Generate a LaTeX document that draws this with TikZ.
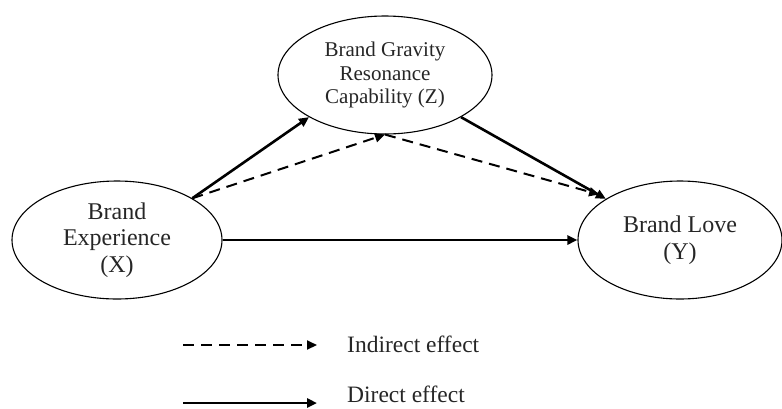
\documentclass[tikz,border=0pt]{standalone}
\usepackage{fontspec}
\setmainfont{Liberation Serif}
\usetikzlibrary{shapes.geometric,arrows.meta}
\begin{document}
\begin{tikzpicture}[x=1pt,y=-1pt,
  ell/.style={ellipse,draw,line width=1.1pt,inner sep=0pt,align=center,text=black!85},
  solidarr/.style={line width=2.6pt,-{Triangle[length=10pt,width=9pt]}},
  dasharr/.style={line width=2pt,dash pattern=on 11pt off 7pt,-{Triangle[length=10pt,width=9pt]}},
  legtext/.style={anchor=base west,inner sep=0pt,font=\fontsize{23.5}{26}\selectfont,text=black!85}]
\useasboundingbox (0,0) rectangle (782,408);
\node[ell,minimum width=210pt,minimum height=118pt,font=\fontsize{24}{26.5}\selectfont] (X) at (117,240) {Brand\\Experience\\(X)};
\node[ell,minimum width=214pt,minimum height=118pt,font=\fontsize{21}{23.5}\selectfont] (Z) at (385,75) {Brand Gravity\\Resonance\\Capability (Z)};
\node[ell,minimum width=204pt,minimum height=118pt,font=\fontsize{24}{26.5}\selectfont] (Y) at (680,240) {Brand Love\\(Y)};
% connectors
\draw[solidarr] (X.29) -- (Z.209);
\draw[solidarr] (Z.-29) -- (Y.151);
\draw[solidarr] (X.east) -- (Y.west);
\draw[dasharr] (X.29) -- (Z.south);
\draw[dasharr,shorten >=10pt] (Z.south) -- (Y.149);
% legend
\coordinate (la) at (183,345);
\coordinate (lb) at (317,345);
\coordinate (lc) at (183,403);
\coordinate (ld) at (317,403);
\draw[dasharr] (la) -- (lb);
\draw[solidarr] (lc) -- (ld);
\node[legtext] (li) at (347,352) {Indirect effect};
\node[legtext] (lo) at (347,402) {Direct effect};
\end{tikzpicture}
\end{document}
